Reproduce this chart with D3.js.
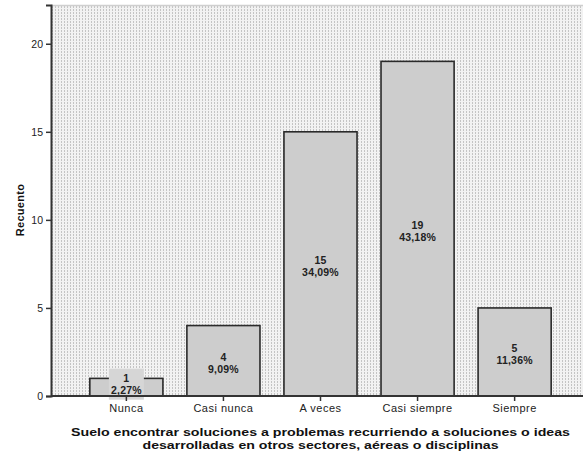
<!DOCTYPE html>
<html><head><meta charset="utf-8">
<script src="https://cdn.jsdelivr.net/npm/d3@7"></script>
<style>body{margin:0;background:#fff}svg{display:block}text{font-family:"Liberation Sans",Arial,sans-serif}</style>
</head><body><svg id="c" width="583" height="459"></svg>
<script>
const categories = ["Nunca","Casi nunca","A veces","Casi siempre","Siempre"];
const counts = [1,4,15,19,5];
const percents = ["2,27%","9,09%","34,09%","43,18%","11,36%"];
const yTicks = [0,5,10,15,20];
const xTitle = ["Suelo encontrar soluciones a problemas recurriendo a soluciones o ideas","desarrolladas en otros sectores, aéreas o disciplinas"];
const yTitle = "Recuento";

const svg = d3.select("#c");
const L = 51, T = 5, R = 590, B = 396;
const x = d3.scaleBand().domain(categories).range([L,R]).paddingInner(0.247).paddingOuter(0.40);
const y = d3.scaleLinear().domain([0,22.2]).range([B,T]);

const defs = svg.append("defs");
const pat = defs.append("pattern").attr("id","dots").attr("patternUnits","userSpaceOnUse")
  .attr("width",3).attr("height",3);
pat.append("rect").attr("width",3).attr("height",3).attr("fill","#f2f2f2");
pat.append("rect").attr("x",1).attr("y",0).attr("width",1).attr("height",2).attr("fill","#c4c4c4");

svg.append("rect").attr("x",L).attr("y",T).attr("width",583-L).attr("height",B-T).attr("fill","url(#dots)");
svg.append("line").attr("x1",L).attr("x2",583).attr("y1",T+0.5).attr("y2",T+0.5).attr("stroke","#cfcfcf").attr("stroke-width",1.5);

// bars
svg.selectAll("rect.bar").data(categories).join("rect").attr("class","bar")
  .attr("x",d=>x(d)).attr("width",x.bandwidth())
  .attr("y",(d,i)=>y(counts[i])).attr("height",(d,i)=>B-y(counts[i]))
  .attr("fill","#cdcdcd").attr("stroke","#2a2a2a").attr("stroke-width",1.6);

// labels
categories.forEach((c,i)=>{
  const cx = x(c)+x.bandwidth()/2;
  let cy = (y(counts[i])+B)/2 + 0.5;
  if (i===0) {
    cy -= 6;
    svg.append("rect").attr("x",cx-17.5).attr("y",cy-13).attr("width",35).attr("height",31).attr("fill","#d6d6d6");
  }
  const t = svg.append("text").attr("text-anchor","middle").attr("font-size",10.5).attr("font-weight","bold").attr("fill","#222").attr("letter-spacing",0.2);
  t.append("tspan").attr("x",cx).attr("y",cy).text(counts[i]);
  t.append("tspan").attr("x",cx).attr("y",cy+12).text(percents[i]);
});

// axes
const yAxis = d3.axisLeft(y).tickValues(yTicks).tickSize(5).tickPadding(3);
const gy = svg.append("g").attr("transform",`translate(${L},0)`).call(yAxis);
gy.select(".domain").attr("stroke","#333").attr("stroke-width",2);
gy.selectAll(".tick line").attr("stroke","#333").attr("stroke-width",1.5);
gy.selectAll(".tick text").attr("font-size",10.5).attr("fill","#222").attr("font-family","Liberation Sans, Arial, sans-serif");

const xAxis = d3.axisBottom(x).tickSize(5).tickPadding(3);
const gx = svg.append("g").attr("transform",`translate(0,${B})`).call(xAxis);
gx.select(".domain").remove();
gx.selectAll(".tick line").attr("stroke","#333").attr("stroke-width",1.5);
gx.selectAll(".tick text").attr("font-size",11).attr("letter-spacing",0.5).attr("fill","#222").attr("font-family","Liberation Sans, Arial, sans-serif");
svg.append("line").attr("x1",L).attr("x2",583).attr("y1",B).attr("y2",B).attr("stroke","#333").attr("stroke-width",2);

// titles
const tx = (L+R)/2;
svg.append("text").attr("x",tx).attr("y",436).attr("text-anchor","middle").attr("font-size",11).attr("font-weight","bold").attr("fill","#111")
  .attr("textLength",499).attr("lengthAdjust","spacingAndGlyphs").text(xTitle[0]);
svg.append("text").attr("x",tx).attr("y",448.5).attr("text-anchor","middle").attr("font-size",11).attr("font-weight","bold").attr("fill","#111")
  .attr("textLength",356).attr("lengthAdjust","spacingAndGlyphs").text(xTitle[1]);
svg.append("text").attr("transform","translate(23.5,210) rotate(-90)").attr("text-anchor","middle").attr("font-size",11).attr("font-weight","bold").attr("fill","#111")
  .attr("letter-spacing",0.3).text(yTitle);
</script></body></html>
